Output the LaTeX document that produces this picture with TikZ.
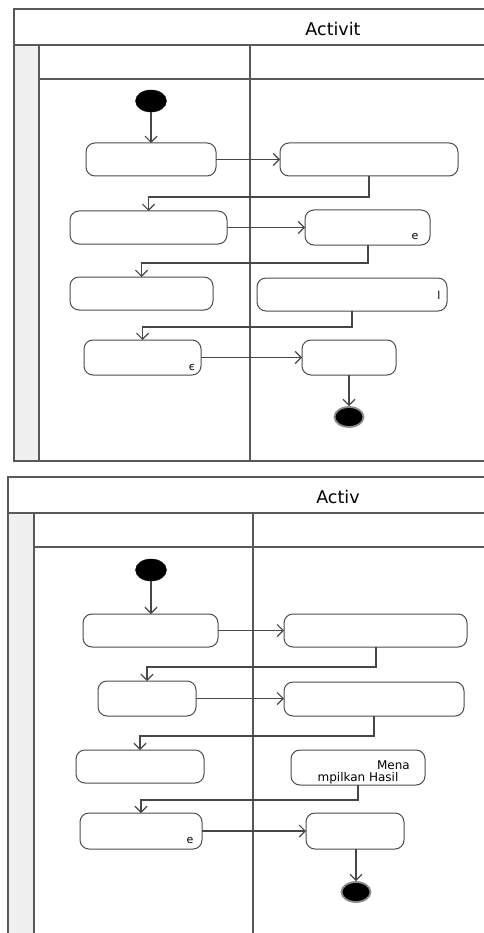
\documentclass[tikz,border=0pt]{standalone}
\usepackage{fontspec}
\setmainfont{DejaVu Sans}
\usetikzlibrary{arrows.meta,shapes.geometric}
\begin{document}
\begin{tikzpicture}[x=1pt,y=-1pt,
  frameline/.style={draw=black!65,line width=1.3pt},
  act/.style={draw=black!70,line width=1pt,rounded corners=9pt,fill=white,inner sep=0pt,outer sep=0pt},
  startnode/.style={ellipse,fill=black,draw=black,inner sep=0pt,minimum width=31pt,minimum height=22pt},
  endnode/.style={ellipse,fill=black,draw=black!45,line width=1.8pt,inner sep=0pt,minimum width=29pt,minimum height=20pt},
  conn/.style={draw=black!72,line width=1.3pt,-{Straight Barb[length=6pt,width=12pt,line width=1.2pt]}},
  title/.style={font=\fontsize{17.5}{20}\selectfont,inner sep=0pt},
  small/.style={font=\fontsize{11}{12}\selectfont,inner sep=0pt}
]
\useasboundingbox[fill=white] (0,0) rectangle (483,933);

% ---------- top diagram frame ----------
\fill[black!6] (14,45) rectangle (39,461);
\draw[frameline] (484,9) -- (14,9) -- (14,461) -- (484,461);
\draw[frameline] (14,45) -- (484,45);
\draw[frameline] (39,45) -- (39,461);
\draw[frameline] (39,79) -- (484,79);
\draw[frameline] (250,45) -- (250,461);
\node[title] (title1) at (333,29) {Activit};

% ---------- top diagram nodes ----------
\node[startnode] (s1) at (151,101) {};
\node[act,minimum width=130pt,minimum height=33pt] (t1) at (151,159.5) {};
\node[act,minimum width=178pt,minimum height=33pt] (t2) at (369,159.5) {};
\node[act,minimum width=157pt,minimum height=33pt] (t3) at (148.5,227.5) {};
\node[act,minimum width=125pt,minimum height=35pt] (t4) at (367.5,227.5) {};
\node[act,minimum width=143pt,minimum height=33pt] (t5) at (141.5,293.5) {};
\node[act,minimum width=190pt,minimum height=33pt] (t6) at (352,294.5) {};
\node[act,minimum width=117pt,minimum height=35pt] (t7) at (142.5,357.5) {};
\node[act,minimum width=94pt,minimum height=35pt] (t8) at (349,357.5) {};
\node[endnode] (f1) at (349,417) {};

\node[small] (t4txt) at (415,236) {e};
\node[small] (t6txt) at (439,295) {l};
\node[small] (t7txt) at (192,367) {є};

\coordinate (b1) at (369,197);
\coordinate (b2) at (368,263);
\coordinate (b3) at (352,327);

\draw[conn] (s1) -- (t1);
\draw[conn] (t1) -- (t2);
\draw[conn] (t2.south) -- (b1) -| (t3.north);
\draw[conn] (t3) -- (t4);
\draw[conn] (b2 |- t4.south) -- (b2) -| (t5.north);
\draw[conn] (t6.south) -- (b3) -| (t7.north);
\draw[conn] (t7) -- (t8);
\draw[conn] (t8) -- (f1);

% ---------- bottom diagram frame ----------
\fill[black!6] (8,513) rectangle (34,934);
\draw[frameline] (484,477) -- (8,477) -- (8,934);
\draw[frameline] (8,513) -- (484,513);
\draw[frameline] (34,513) -- (34,934);
\draw[frameline] (34,547) -- (484,547);
\draw[frameline] (253,513) -- (253,934);
\node[title] (title2) at (338,497) {Activ};

% ---------- bottom diagram nodes ----------
\node[startnode] (s2) at (151,570) {};
\node[act,minimum width=135pt,minimum height=33pt] (u1) at (150.5,630.5) {};
\node[act,minimum width=183pt,minimum height=33pt] (u2) at (375.5,630.5) {};
\node[act,minimum width=98pt,minimum height=35pt] (u3) at (147,698.5) {};
\node[act,minimum width=180pt,minimum height=34pt] (u4) at (374,699) {};
\node[act,minimum width=128pt,minimum height=33pt] (u5) at (140,766.5) {};
\node[act,minimum width=134pt,minimum height=35pt] (u6) at (358,767.5) {};
\node[act,minimum width=122pt,minimum height=36pt] (u7) at (141,831) {};
\node[act,minimum width=98pt,minimum height=36pt] (u8) at (355,831) {};
\node[endnode] (f2) at (356,892) {};

\node[small,anchor=base east,font=\fontsize{12}{13}\selectfont] (u6a) at (410,769) {Mena};
\node[small,anchor=base,font=\fontsize{12}{13}\selectfont] (u6b) at (358,781) {mpilkan Hasil};
\node[small] (u7txt) at (190,840) {e};

\coordinate (c1) at (376,667);
\coordinate (c2) at (374,736);
\coordinate (c3) at (358,800);

\draw[conn] (s2) -- (s2 |- u1.north);
\draw[conn] (u1) -- (u2);
\draw[conn] (c1 |- u2.south) -- (c1) -| (u3.north);
\draw[conn] (u3) -- (u3 -| u4.west);
\draw[conn] (u4.south) -- (c2) -| (u5.north);
\draw[conn] (u6.south) -- (c3) -| (u7.north);
\draw[conn] (u7) -- (u8);
\draw[conn] (f2 |- u8.south) -- (f2);
\end{tikzpicture}
\end{document}
